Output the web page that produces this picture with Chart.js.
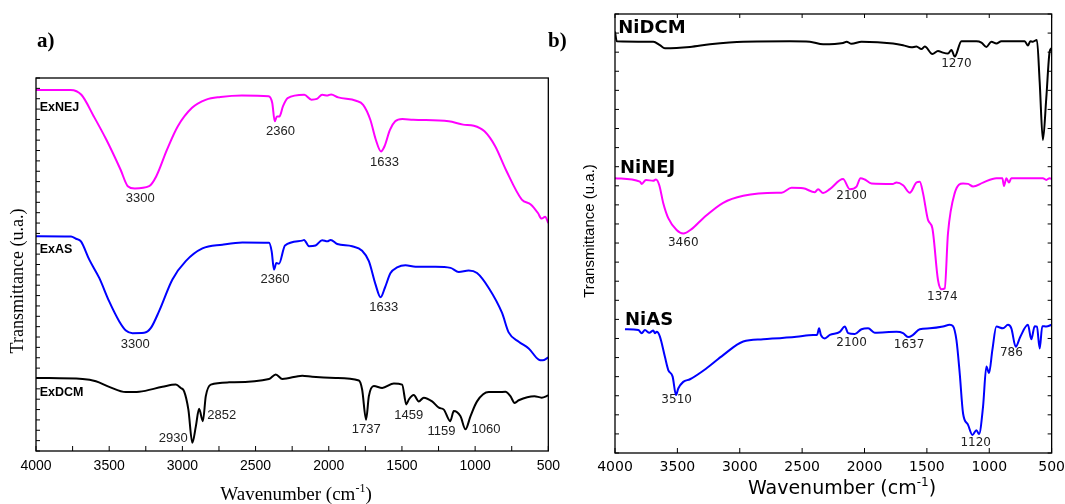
<!DOCTYPE html>
<html lang="en">
<head>
<meta charset="UTF-8">
<title>FTIR spectra</title>
<script src="https://cdn.jsdelivr.net/npm/chart.js@4.4.1/dist/chart.umd.min.js"></script>
<style>
    body { margin: 0; background: #fff; }
    .page { position: relative; width: 1065px; height: 504px; overflow: hidden; }
    .panel { position: absolute; top: 0; }
    .tag { position: absolute; top: 30px; font: bold 21px/21px "Liberation Serif", "Times New Roman", serif; color: #000; }
</style>
</head>
<body>
<div class="page">
    <canvas id="chartA" class="panel" style="left:0" width="560" height="504"></canvas>
    <canvas id="chartB" class="panel" style="left:560px" width="505" height="504"></canvas>
    <div class="tag" style="left:37px">a)</div>
    <div class="tag" style="left:548px">b)</div>
</div>
<script>
// tick labels of the wavenumber axis
const xTicks = [4000, 3500, 3000, 2500, 2000, 1500, 1000, 500]

// panel a) : extracts
const wnExNEJ = [4000, 3763, 3690, 3605, 3520, 3422, 3373, 3325, 3227, 3179, 3105, 3032, 2934, 2837, 2740, 2593, 2411, 2386, 2369, 2354, 2337, 2313, 2281, 2167, 2118, 2081, 2045, 2008, 1984, 1935, 1814, 1765, 1716, 1679, 1643, 1619, 1582, 1546, 1497, 1424, 1180, 1082, 1009, 936, 863, 790, 681, 620, 571, 546, 522, 500]
const tExNEJ = [96.8, 96.8, 95.5, 89.7, 83.5, 75.4, 71.0, 70.4, 71.0, 73.6, 80.8, 87.0, 92.0, 94.2, 94.9, 95.3, 95.1, 93.3, 88.4, 89.7, 89.7, 92.4, 94.6, 95.5, 94.2, 94.4, 95.5, 95.3, 95.6, 94.8, 93.9, 92.8, 88.8, 83.5, 80.3, 81.7, 86.1, 88.4, 89.0, 88.8, 88.4, 87.5, 87.2, 85.7, 81.7, 75.4, 67.4, 66.1, 63.8, 62.3, 62.8, 61.1]

const wnExAS = [4000, 3761, 3727, 3693, 3636, 3568, 3500, 3432, 3386, 3341, 3261, 3215, 3159, 3068, 2977, 2863, 2727, 2590, 2408, 2390, 2374, 2358, 2340, 2299, 2181, 2169, 2135, 2090, 2045, 2010, 1987, 1942, 1840, 1772, 1726, 1680, 1646, 1617, 1578, 1533, 1476, 1407, 1271, 1168, 1112, 1044, 987, 907, 816, 771, 702, 634, 566, 539, 500]
const tExAS = [57.6, 57.5, 56.9, 56.2, 51.3, 46.4, 40.1, 34.8, 32.3, 31.6, 31.7, 33.0, 37.5, 46.0, 50.9, 54.3, 55.3, 55.9, 55.8, 53.5, 48.6, 50.4, 50.2, 55.1, 56.4, 56.6, 54.9, 55.1, 56.5, 56.2, 56.6, 55.5, 54.9, 53.7, 50.9, 44.6, 41.2, 43.7, 47.7, 49.2, 49.8, 49.4, 49.4, 49.1, 48.0, 48.4, 47.7, 43.7, 37.0, 31.8, 29.3, 27.5, 24.5, 24.3, 25.1]

const wnExDCM = [4000, 3682, 3591, 3500, 3386, 3295, 3136, 3045, 3011, 2988, 2959, 2932, 2908, 2886, 2860, 2840, 2806, 2681, 2408, 2362, 2317, 2181, 2113, 1953, 1794, 1772, 1745, 1726, 1692, 1635, 1555, 1499, 1470, 1453, 1419, 1385, 1351, 1294, 1248, 1214, 1170, 1146, 1100, 1066, 1032, 987, 907, 839, 793, 759, 730, 702, 595, 546, 500]
const tExDCM = [19.6, 19.3, 18.7, 17.2, 15.8, 15.9, 17.2, 17.8, 16.9, 16.0, 11.1, 2.2, 6.6, 11.3, 8.0, 14.7, 17.8, 18.4, 19.3, 20.5, 19.3, 20.2, 19.9, 19.6, 18.9, 16.5, 8.4, 14.7, 17.4, 16.9, 18.1, 17.8, 12.5, 13.8, 15.0, 13.3, 14.3, 13.3, 11.6, 11.1, 8.0, 10.7, 9.3, 5.8, 9.3, 13.3, 15.8, 15.8, 15.9, 14.7, 12.9, 13.6, 14.7, 14.3, 14.9]

// panel b) : nanoparticles
const wnNiDCM = [4000, 3986, 3693, 3640, 3600, 3399, 3239, 2972, 2598, 2438, 2332, 2172, 2144, 2104, 2024, 1771, 1691, 1624, 1584, 1544, 1517, 1456, 1411, 1371, 1331, 1303, 1277, 1223, 1103, 1063, 1023, 983, 943, 903, 716, 690, 671, 650, 618, 596, 570, 543, 516, 500]
const tNiDCM = [96.0, 93.8, 93.7, 92.9, 92.2, 92.5, 93.1, 93.7, 93.8, 93.7, 93.1, 93.4, 93.7, 93.2, 93.7, 93.3, 92.9, 92.4, 92.6, 92.0, 92.6, 90.9, 91.6, 91.2, 91.0, 91.8, 90.3, 93.8, 93.8, 93.5, 92.5, 93.7, 93.3, 93.8, 93.8, 92.8, 93.8, 93.7, 94.1, 84.6, 71.3, 80.8, 91.4, 92.2]

const wnNiNEJ = [4000, 3800, 3786, 3752, 3693, 3672, 3645, 3613, 3573, 3506, 3453, 3386, 3293, 3133, 2972, 2705, 2665, 2585, 2492, 2398, 2372, 2332, 2278, 2172, 2118, 2064, 2032, 1998, 1944, 1771, 1744, 1691, 1637, 1584, 1557, 1531, 1491, 1456, 1411, 1383, 1357, 1331, 1277, 1210, 1170, 1130, 1050, 943, 895, 882, 863, 842, 823, 570, 543, 516, 500]
const tNiNEJ = [62.6, 61.8, 61.3, 62.2, 62.0, 62.3, 61.0, 56.9, 53.5, 50.8, 50.0, 51.0, 53.5, 57.0, 58.6, 59.3, 59.3, 60.4, 60.3, 59.4, 60.1, 59.2, 60.1, 62.4, 60.1, 60.7, 62.6, 62.3, 61.4, 61.3, 61.6, 61.0, 59.3, 61.6, 61.8, 59.2, 53.1, 51.2, 39.4, 37.3, 37.5, 50.0, 59.2, 61.4, 61.3, 60.7, 61.6, 62.6, 62.6, 60.8, 62.6, 61.6, 62.6, 62.6, 62.2, 62.6, 62.4]

const wnNiAS = [3920, 3813, 3786, 3760, 3725, 3693, 3680, 3666, 3640, 3600, 3573, 3538, 3511, 3493, 3453, 3399, 3266, 3133, 2972, 2812, 2545, 2412, 2380, 2364, 2350, 2318, 2278, 2198, 2158, 2131, 2078, 2024, 1971, 1918, 1744, 1691, 1651, 1611, 1557, 1477, 1371, 1317, 1291, 1263, 1237, 1210, 1170, 1135, 1103, 1082, 1050, 1023, 1002, 975, 943, 890, 850, 823, 788, 751, 690, 663, 636, 618, 596, 575, 543, 500]
const tNiAS = [28.2, 28.0, 27.3, 28.0, 27.4, 27.9, 27.3, 27.6, 26.5, 21.9, 18.9, 17.4, 13.2, 14.7, 16.2, 16.8, 19.3, 22.3, 25.4, 25.9, 26.5, 26.9, 26.9, 28.4, 26.9, 26.1, 26.9, 27.6, 28.8, 27.3, 27.1, 28.2, 28.4, 27.4, 27.6, 27.3, 26.4, 26.9, 28.2, 28.4, 28.8, 29.2, 28.9, 25.7, 18.2, 9.0, 6.4, 4.1, 5.2, 4.3, 10.5, 19.7, 18.2, 23.5, 28.8, 28.4, 29.2, 28.4, 24.2, 26.5, 29.2, 25.9, 28.9, 28.8, 23.8, 28.9, 28.8, 29.2]

// curve names and band labels: [text, wavenumber, transmittance]
const namesA = [['ExNEJ', 3975, 92.0], ['ExAS', 3975, 54.0], ['ExDCM', 3975, 15.8]]
const peaksA = [['3300', 3288, 67.7], ['2360', 2330, 85.7], ['1633', 1619, 77.4],
    ['3300', 3322, 28.7], ['2360', 2367, 46.1], ['1633', 1624, 38.4],
    ['2930', 3063, 3.5], ['2852', 2731, 9.6], ['1737', 1744, 5.9], ['1459', 1453, 9.6], ['1159', 1230, 5.3], ['1060', 926, 5.8]]

const namesB = [['NiDCM', 3974, 96.7], ['NiNEJ', 3960, 64.9], ['NiAS', 3920, 30.3]]
const peaksB = [['1270', 1263, 88.6], ['3460', 3453, 47.8], ['2100', 2104, 58.5], ['1374', 1376, 35.5],
    ['3510', 3506, 12.2], ['2100', 2104, 25.0], ['1637', 1643, 24.6], ['1120', 1109, 2.2], ['786', 823, 22.7]]

const toPoints = (wn, t) => wn.map((v, i) => ({ x: v, y: t[i] }))

const line = (wn, t, color) => ({
    data: toPoints(wn, t),
    borderColor: color,
    borderWidth: 2,
    pointRadius: 0,
    fill: false,
    cubicInterpolationMode: 'monotone'
})

// title "Wavenumber (cm-1)" with a real superscript
function wavenumberTitle(ctx, cx, cy, font, supFont) {
    ctx.font = font
    const a = 'Wavenumber (cm', c = ')'
    const wa = ctx.measureText(a).width
    const wc = ctx.measureText(c).width
    ctx.font = supFont
    const wb = ctx.measureText('-1').width
    let x = cx - (wa + wb + wc) / 2
    ctx.textAlign = 'left'
    ctx.textBaseline = 'middle'
    ctx.font = font
    ctx.fillText(a, x, cy)
    ctx.font = supFont
    ctx.fillText('-1', x + wa, cy - 6)
    ctx.font = font
    ctx.fillText(c, x + wa + wb, cy)
}

// frame, inward ticks and all texts of one panel
function panelDeco(cfg) {
    return {
        id: 'deco',
        afterDatasetsDraw(chart) {
            const { ctx, chartArea: a, scales: { x, y } } = chart
            ctx.save()
            ctx.strokeStyle = '#000'
            ctx.lineWidth = 1.3
            ctx.strokeRect(a.left, a.top, a.right - a.left, a.bottom - a.top)

            ctx.lineWidth = 1
            ctx.beginPath()
            for (let v = 500; v <= 4000; v += cfg.xStep) {
                const px = x.getPixelForValue(v)
                ctx.moveTo(px, a.bottom)
                ctx.lineTo(px, a.bottom - 5)
                if (cfg.topTicks) {
                    ctx.moveTo(px, a.top)
                    ctx.lineTo(px, a.top + 4)
                }
            }
            y.ticks.forEach(t => {
                const py = y.getPixelForValue(t.value)
                ctx.moveTo(a.left, py)
                ctx.lineTo(a.left + 4, py)
                if (cfg.rightTicks) {
                    ctx.moveTo(a.right, py)
                    ctx.lineTo(a.right - 4, py)
                }
            })
            ctx.stroke()

            ctx.fillStyle = '#000'
            ctx.textBaseline = 'middle'
            ctx.textAlign = 'left'
            ctx.font = cfg.nameFont
            cfg.names.forEach(([txt, wn, t]) => ctx.fillText(txt, x.getPixelForValue(wn), y.getPixelForValue(t)))

            ctx.fillStyle = '#222'
            ctx.textAlign = 'center'
            ctx.font = cfg.peakFont
            cfg.peaks.forEach(([txt, wn, t]) => ctx.fillText(txt, x.getPixelForValue(wn), y.getPixelForValue(t)))

            ctx.fillStyle = '#000'
            wavenumberTitle(ctx, cfg.xTitle[0], cfg.xTitle[1], cfg.titleFont, cfg.supFont)

            ctx.save()
            ctx.translate(cfg.yTitle[0], cfg.yTitle[1])
            ctx.rotate(-Math.PI / 2)
            ctx.textAlign = 'center'
            ctx.textBaseline = 'middle'
            ctx.font = cfg.yFont
            ctx.fillText('Transmittance (u.a.)', 0, 0)
            ctx.restore()

            ctx.restore()
        }
    }
}

function makeChart(id, datasets, box, tickFont, tickGap, count, deco) {
    return new Chart(document.getElementById(id), {
        type: 'line',
        data: { datasets },
        options: {
            responsive: false,
            animation: false,
            layout: { autoPadding: false, padding: { top: box.top, right: box.right, left: 0, bottom: 0 } },
            plugins: { legend: { display: false }, tooltip: { enabled: false } },
            scales: {
                x: {
                    type: 'linear',
                    reverse: true,
                    min: 500,
                    max: 4000,
                    afterBuildTicks: s => { s.ticks = xTicks.map(v => ({ value: v })) },
                    afterFit: s => { s.height = box.xHeight },
                    ticks: { color: '#000', font: tickFont, padding: 0, maxRotation: 0, autoSkip: false, callback: v => String(v) },
                    // tick marks are drawn inward by the plugin, the length here only spaces the labels
                    grid: { display: false, drawTicks: true, tickLength: tickGap },
                    border: { display: false }
                },
                y: {
                    type: 'linear',
                    min: 0,
                    max: 100,
                    afterFit: s => { s.width = box.yWidth },
                    ticks: { display: false, count },
                    grid: { display: false, drawTicks: false },
                    border: { display: false }
                }
            }
        },
        plugins: [panelDeco(deco)]
    })
}

makeChart('chartA', [
    line(wnExNEJ, tExNEJ, '#ff00ff'),
    line(wnExAS, tExAS, '#0000ff'),
    line(wnExDCM, tExDCM, '#000000')
], { top: 78, right: 11, xHeight: 53, yWidth: 36 },
{ family: '"Liberation Sans", Arial, sans-serif', size: 14 }, 7, 37, {
    xStep: 250, topTicks: false, rightTicks: false,
    names: namesA, peaks: peaksA,
    nameFont: 'bold 12.5px "Liberation Sans", Arial, sans-serif',
    peakFont: '13px "Liberation Sans", Arial, sans-serif',
    titleFont: '19px "Liberation Serif", "Times New Roman", serif',
    supFont: '12px "Liberation Serif", "Times New Roman", serif',
    yFont: '18px "Liberation Serif", "Times New Roman", serif',
    xTitle: [296, 495], yTitle: [18, 281]
})

makeChart('chartB', [
    line(wnNiDCM, tNiDCM, '#000000'),
    line(wnNiNEJ, tNiNEJ, '#ff00ff'),
    line(wnNiAS, tNiAS, '#0000ff')
], { top: 14, right: 13, xHeight: 51, yWidth: 55 },
{ family: '"DejaVu Sans", sans-serif', size: 14 }, 6, 24, {
    xStep: 500, topTicks: true, rightTicks: true,
    names: namesB, peaks: peaksB,
    nameFont: 'bold 18px "DejaVu Sans", sans-serif',
    peakFont: '12px "DejaVu Sans", sans-serif',
    titleFont: '19px "DejaVu Sans", sans-serif',
    supFont: '12px "DejaVu Sans", sans-serif',
    yFont: '15px "Liberation Sans", Arial, sans-serif',
    xTitle: [282, 489], yTitle: [30, 231]
})
</script>
</body>
</html>
